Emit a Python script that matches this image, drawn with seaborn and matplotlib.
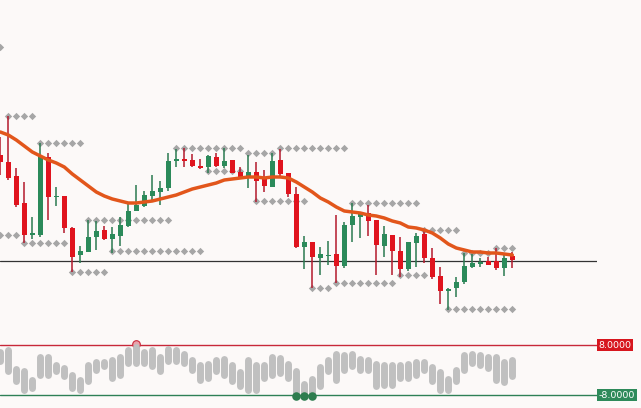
import numpy as np
import pandas as pd
import matplotlib
matplotlib.use("Agg")
import matplotlib.pyplot as plt
import matplotlib.transforms as mtransforms
import seaborn as sns

# ---------------- data ----------------
opens = [117.5, 116.8, 115.4, 112.7, 109.5, 109.5, 117.3, 113.3, 113.4, 110.2,
         107.5, 107.8, 109.3, 110.0, 109.1, 109.4, 110.4, 111.9, 112.4, 113.4,
         113.8, 114.2, 116.9, 117.1, 117.0, 116.4, 116.3, 117.3, 116.4, 117.0,
         115.8, 115.3, 115.8, 115.1, 114.3, 117.0, 115.7, 113.6, 108.3, 108.8,
         107.2, 107.4, 107.6, 106.4, 110.5, 111.3, 111.7, 111.0, 108.4, 109.5,
         107.9, 106.1, 108.7, 109.6, 107.2, 105.4, 103.9, 104.2, 104.8, 106.3,
         106.6, 106.9, 106.9, 106.2, 107.4]
highs = [119.3, 121.4, 116.2, 114.8, 111.3, 118.7, 117.7, 114.3, 113.4, 110.3,
         108.4, 111.0, 110.9, 110.4, 110.3, 111.3, 112.7, 114.5, 113.9, 115.5,
         114.9, 117.7, 118.1, 118.2, 117.6, 117.1, 117.5, 117.7, 118.2, 117.0,
         116.3, 117.5, 116.8, 116.0, 117.7, 118.1, 115.7, 114.3, 109.4, 108.8,
         108.3, 108.9, 111.5, 110.8, 112.7, 111.7, 112.5, 111.0, 110.4, 109.5,
         109.3, 108.8, 109.7, 110.0, 108.2, 106.3, 104.2, 105.3, 107.7, 107.6,
         107.2, 107.3, 108.2, 107.7, 107.8]
lows = [115.5, 115.0, 112.3, 108.7, 109.1, 109.3, 111.0, 112.4, 109.7, 105.8,
        106.7, 107.8, 108.0, 109.0, 107.7, 108.4, 110.3, 111.9, 112.3, 113.0,
        112.5, 113.9, 116.3, 116.3, 116.3, 116.1, 115.7, 116.3, 116.2, 115.7,
        115.2, 114.2, 112.8, 113.8, 114.3, 115.4, 113.3, 108.2, 106.1, 104.2,
        105.5, 106.5, 104.7, 106.2, 108.8, 109.2, 109.4, 105.5, 107.3, 105.5,
        105.3, 105.9, 106.3, 106.7, 105.1, 102.6, 102.0, 103.3, 104.6, 106.2,
        106.3, 106.5, 106.0, 105.4, 106.2]
closes = [116.8, 115.2, 112.5, 109.5, 109.7, 117.4, 113.3, 113.4, 110.2, 107.3,
          107.9, 109.3, 109.9, 109.1, 109.6, 110.5, 111.9, 112.5, 113.5, 113.9,
          114.2, 116.9, 117.1, 116.9, 116.4, 116.2, 117.4, 116.4, 116.9, 115.7,
          115.2, 115.8, 114.9, 114.4, 116.9, 115.6, 113.6, 108.3, 108.8, 107.3,
          107.6, 107.5, 106.4, 110.5, 111.4, 111.7, 110.9, 108.5, 109.6, 107.9,
          106.1, 108.8, 109.4, 107.2, 105.3, 103.9, 104.1, 104.8, 106.4, 106.7,
          106.8, 106.5, 106.2, 107.2, 107.0]
moving_avg = [119.8, 119.5, 119.0, 118.4, 117.8, 117.4, 117.0, 116.7, 116.3, 115.6,
              115.0, 114.4, 113.8, 113.4, 113.1, 112.9, 112.7, 112.7, 112.8, 112.9,
              113.1, 113.3, 113.5, 113.8, 114.1, 114.3, 114.5, 114.7, 115.0, 115.1,
              115.2, 115.3, 115.3, 115.2, 115.3, 115.3, 115.2, 114.8, 114.3, 113.8,
              113.2, 112.8, 112.3, 111.9, 111.8, 111.7, 111.5, 111.4, 111.2, 110.9,
              110.7, 110.3, 110.2, 110.0, 109.7, 109.2, 108.6, 108.2, 108.0, 107.8,
              107.8, 107.7, 107.7, 107.6, 107.5]

# support / resistance dot rows: first candle, last candle, price level
level_start = [0, 1, 5, 0, 3, 9, 11, 14, 22, 26, 31, 35, 32, 39, 42, 44, 50, 53, 58, 62, 56]
level_end = [0, 4, 10, 2, 8, 13, 21, 25, 30, 30, 34, 43, 38, 41, 49, 52, 53, 57, 61, 64, 64]
level_price = [128.3, 121.4, 118.7, 109.5, 108.7, 105.8, 111.0, 107.9, 118.2, 115.9,
               117.7, 118.2, 112.9, 104.2, 104.7, 112.7, 105.5, 110.0, 107.7, 108.2, 102.1]

current_price = 106.9

# oscillator (lower panel): range of each bar
osc_high = [5.76, 6.4, 0.32, -0.32, -3.2, 4.16, 4.16, 1.6, 0.64, -1.6,
            -3.2, 1.6, 2.56, 2.56, 3.2, 4.16, 6.4, 7.36, 5.76, 6.4,
            4.16, 6.72, 6.4, 5.12, 3.2, 1.6, 1.92, 3.2, 3.52, 1.6,
            -0.64, 3.2, 1.6, 1.6, 4.16, 3.84, 1.92, -0.32, -4.48, -2.88,
            0.96, 3.2, 5.12, 4.8, 5.12, 3.52, 3.2, 1.92, 1.6, 1.6,
            1.6, 1.92, 2.56, 2.56, 0.96, -0.64, -2.88, 0.0, 4.8, 5.12,
            4.8, 4.16, 4.16, 2.56, 3.2]
osc_low = [2.88, -0.32, -3.52, -6.4, -5.76, -1.6, -1.6, -0.32, -1.92, -5.76,
           -6.4, -3.52, 0.0, 1.28, -2.56, -1.6, 2.24, 2.24, 2.24, 1.28,
           -0.32, 2.88, 2.88, 2.24, 0.0, -3.2, -2.56, -0.32, -1.6, -3.52,
           -5.12, -6.4, -6.4, -2.56, -1.6, -0.96, -2.56, -7.36, -8.0, -8.0,
           -5.12, -0.32, -3.2, 0.0, 1.28, 0.0, 0.0, -5.12, -4.8, -4.8,
           -2.56, -2.56, -1.6, 0.0, -3.52, -6.4, -6.4, -3.52, 0.0, 2.24,
           1.6, 0.64, -3.2, -3.84, -1.92]
upper_band = 8.0
lower_band = -8.0
overbought_idx = [17]
oversold_idx = [37, 38, 39]

# ---------------- styling ----------------
BG = "#fcf9f8"
GREEN = "#2b8a5a"
RED = "#e0141e"
GREEN_WICK = "#2a7a50"
RED_WICK = "#b3192c"
MA_COLOR = "#e2561b"
DOT_GRAY = "#a6a6a6"

sns.set_theme(style="white")
plt.rcParams["font.family"] = ["DejaVu Sans"]

W, H = 641, 408
fig = plt.figure(figsize=(W / 100, H / 100), dpi=100, facecolor=BG)
plot_w = 597 / W
ax1 = fig.add_axes([0, 78 / H, plot_w, 330 / H])
ax2 = fig.add_axes([0, 0, plot_w, 78 / H])
for ax in (ax1, ax2):
    ax.set_facecolor(BG)
    for s in ax.spines.values():
        s.set_visible(False)
    ax.set_xticks([])
    ax.set_yticks([])

n = len(opens)
idx = np.arange(n)
df = pd.DataFrame({"i": idx, "open": opens, "high": highs, "low": lows,
                   "close": closes, "ma": moving_avg})
up = df["close"] >= df["open"]

# level dots
rows = []
for s, e, p in zip(level_start, level_end, level_price):
    for k in range(s, e + 1):
        rows.append({"i": k, "price": p})
lv = pd.DataFrame(rows)
sns.scatterplot(data=lv, x="i", y="price", marker="D", s=14, color=DOT_GRAY,
                linewidth=0, ax=ax1, zorder=1, legend=False)

# current price line
ax1.axhline(current_price, color="#333333", lw=0.9, zorder=1.5)

# wicks
ax1.vlines(df["i"], df["low"], df["high"],
           colors=np.where(up, GREEN_WICK, RED_WICK), lw=1.1, zorder=2)
# bodies
body_bottom = np.minimum(df["open"], df["close"])
body_h = np.maximum(np.abs(df["close"] - df["open"]), 0.12)
ax1.bar(df["i"], body_h, bottom=body_bottom, width=0.62,
        color=np.where(up, GREEN, RED), linewidth=0, zorder=3)

# moving average
sns.lineplot(data=df, x="i", y="ma", color=MA_COLOR, linewidth=2.5, ax=ax1,
             zorder=4, legend=False)

x_lo = -0.3 / 8
x_hi = (597 - 0.3) / 8
ax1.set_xlim(x_lo, x_hi)
ax1.set_ylim(100.0, 133.0)
ax1.set_xlabel("")
ax1.set_ylabel("")

# ---------------- lower panel ----------------
ax2.axhline(upper_band, color="#c8283a", lw=1.0, zorder=1)
ax2.axhline(lower_band, color="#2e8056", lw=1.0, zorder=1)
lc = ax2.vlines(idx, osc_low, osc_high, colors="#c0c0c0", lw=5.0, zorder=2)
lc.set_capstyle("round")
ax2.scatter(overbought_idx, [upper_band + 0.4] * len(overbought_idx), s=30,
            facecolor="#e9a3ab", edgecolor="#c8283a", linewidth=0.8, zorder=1.5)
ax2.scatter(oversold_idx, [lower_band - 0.3] * len(oversold_idx), s=38,
            color="#2e7d4f", linewidth=0, zorder=3)
ax2.set_xlim(x_lo, x_hi)
ax2.set_ylim(-12.16, 12.8)

trans = mtransforms.blended_transform_factory(ax2.transAxes, ax2.transData)
ax2.text(1.003, upper_band, "8.0000", transform=trans, ha="left", va="center",
         color="white", fontsize=6.8, clip_on=False,
         bbox=dict(boxstyle="square,pad=0.18", fc="#d7161e", ec="none"))
ax2.text(1.003, lower_band, "-8.0000", transform=trans, ha="left", va="center",
         color="white", fontsize=6.8, clip_on=False,
         bbox=dict(boxstyle="square,pad=0.18", fc="#2e8a5a", ec="none"))

fig.savefig("out.png", dpi=100, facecolor=BG)
